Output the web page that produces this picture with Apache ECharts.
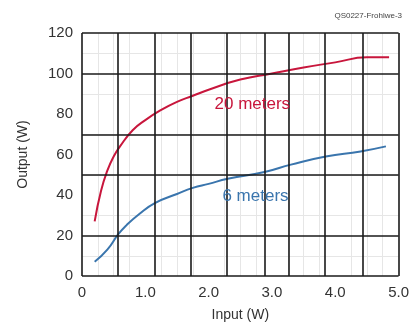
<!DOCTYPE html>
<html>
<head>
<meta charset="utf-8">
<script src="https://cdn.jsdelivr.net/npm/echarts@6/dist/echarts.min.js"></script>
<style>
  html, body { margin: 0; padding: 0; background: #fff; }
  #chart { width: 412px; height: 329px; }
</style>
</head>
<body>
<div id="chart"></div>
<script>
// curve readings, input (W) -> output (W)
var IN_20M = [0.2, 0.3, 0.4, 0.5, 0.6, 0.8, 1.0, 1.25, 1.5, 1.75, 2.0, 2.5, 3.0, 3.5, 4.0, 4.5, 4.85];
var OUT_20M = [27, 42, 52, 59, 64, 72, 77, 82, 86, 89, 92, 97, 100, 103, 105.5, 108, 108];
var IN_6M = [0.2, 0.4, 0.57, 0.7, 0.9, 1.15, 1.5, 1.75, 2.0, 2.3, 2.9, 3.3, 3.85, 4.4, 4.8];
var OUT_6M = [7, 13, 20.5, 25, 30.5, 36, 40.5, 43.5, 45.5, 48, 51.5, 55, 59, 61.5, 64];

// heavy grid lines as drawn on the original sheet
var GRID_X = [0, 0.57, 1.15, 1.72, 2.29, 2.88, 3.27, 3.84, 4.43, 5.0];
var GRID_Y = [0, 20, 50, 70, 100, 120];

var LABEL_20M = { text: '20 meters', at: [2.69, 85] };
var LABEL_6M = { text: '6 meters', at: [2.74, 39.5] };

function pairs(xs, ys) {
  return xs.map(function (x, i) { return [x, ys[i]]; });
}

var chart = echarts.init(document.getElementById('chart'));

var RED = '#c8163c';
var BLUE = '#3a75ad';
var FONT = 'Liberation Sans';

chart.setOption({
  animation: false,
  textStyle: { fontFamily: FONT },
  grid: { left: 82, right: 7, top: 33, bottom: 53 },
  graphic: [{
    type: 'text', right: 10, top: 12,
    style: { text: 'QS0227-Frohlwe-3', fontSize: 8, fill: '#444', fontFamily: FONT }
  }],
  xAxis: {
    type: 'value', min: 0, max: 5, interval: 1,
    name: 'Input (W)', nameLocation: 'middle', nameGap: 32,
    nameTextStyle: { fontSize: 14, color: '#333' },
    axisLine: { show: false }, axisTick: { show: false },
    axisLabel: {
      fontSize: 15, color: '#333', margin: 9,
      formatter: function (v) { return v === 0 ? '0' : v.toFixed(1); }
    },
    splitLine: { show: false },
    minorTick: { show: false, splitNumber: 4 },
    minorSplitLine: { show: true, lineStyle: { color: '#e6e6e6', width: 1 } }
  },
  yAxis: {
    type: 'value', min: 0, max: 120, interval: 20,
    name: 'Output (W)', nameLocation: 'middle', nameGap: 52,
    nameTextStyle: { fontSize: 14, color: '#333' },
    axisLine: { show: false }, axisTick: { show: false },
    axisLabel: { fontSize: 15, color: '#333', margin: 9 },
    splitLine: { show: false },
    minorTick: { show: false, splitNumber: 2 },
    minorSplitLine: { show: true, lineStyle: { color: '#e6e6e6', width: 1 } }
  },
  series: [
    {
      type: 'line', data: [], silent: true, z: 1,
      markLine: {
        silent: true, symbol: 'none', label: { show: false },
        lineStyle: { color: '#1a1a1a', width: 1.6, type: 'solid' },
        data: GRID_X.map(function (v) { return { xAxis: v }; })
          .concat(GRID_Y.map(function (v) { return { yAxis: v }; }))
      }
    },
    {
      type: 'line', data: pairs(IN_20M, OUT_20M), smooth: true, symbol: 'none', z: 3,
      lineStyle: { color: RED, width: 2 },
      markPoint: {
        symbol: 'circle', symbolSize: 0,
        label: { show: true, formatter: LABEL_20M.text, color: RED, fontSize: 17, fontFamily: FONT },
        data: [{ coord: LABEL_20M.at }]
      }
    },
    {
      type: 'line', data: pairs(IN_6M, OUT_6M), smooth: true, symbol: 'none', z: 3,
      lineStyle: { color: BLUE, width: 2 },
      markPoint: {
        symbol: 'circle', symbolSize: 0,
        label: { show: true, formatter: LABEL_6M.text, color: BLUE, fontSize: 17, fontFamily: FONT },
        data: [{ coord: LABEL_6M.at }]
      }
    }
  ]
});
</script>
</body>
</html>
